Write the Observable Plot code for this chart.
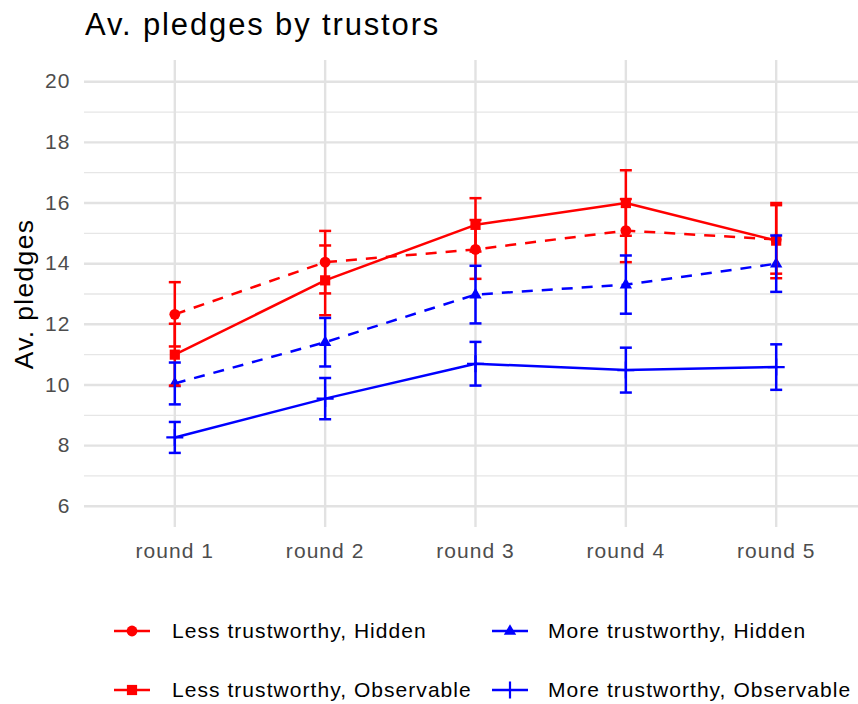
<!DOCTYPE html>
<html>
<head>
<meta charset="utf-8">
<script src="https://cdn.jsdelivr.net/npm/d3@7"></script>
<script src="https://cdn.jsdelivr.net/npm/@observablehq/plot@0.6"></script>
<style>
  body { margin: 0; background: #fff; }
  #wrap { position: relative; width: 858px; height: 704px; overflow: hidden; background: #fff;
          font-family: "Liberation Sans", Arial, sans-serif; }
  #plotbox { position: absolute; left: 0; top: 0; }
  #plotbox svg text { letter-spacing: 0.05em; }
  #title { position: absolute; left: 85px; top: 9px; font-size: 31px; line-height: 31px;
           letter-spacing: 0.06em; color: #000; white-space: nowrap; z-index: 2; }
  .leg { position: absolute; display: flex; align-items: center; height: 24px; font-size: 21px;
         letter-spacing: 0.05em; color: #000; white-space: nowrap; }
  .leg svg { display: block; flex: none; }
</style>
</head>
<body>
<div id="wrap">
  <div id="plotbox"></div>
  <div id="title">Av. pledges by trustors</div>
  <div id="legend"></div>
</div>
<script>
// ---- data ----
const rounds = ["round 1", "round 2", "round 3", "round 4", "round 5"];
const seriesNames = [
  "Less trustworthy, Hidden",
  "Less trustworthy, Observable",
  "More trustworthy, Hidden",
  "More trustworthy, Observable"
];
const lessHiddenMean = [12.33, 14.05, 14.47, 15.09, 14.80];
const lessHiddenSE   = [1.06, 1.03, 0.97, 1.04, 1.13];
const lessObsMean    = [11.00, 13.45, 15.28, 16.00, 14.76];
const lessObsSE      = [1.02, 1.15, 0.88, 1.08, 1.24];
const moreHiddenMean = [10.05, 11.41, 12.98, 13.31, 14.00];
const moreHiddenSE   = [0.69, 0.80, 0.95, 0.96, 0.93];
const moreObsMean    = [8.27, 9.55, 10.70, 10.49, 10.59];
const moreObsSE      = [0.51, 0.68, 0.72, 0.74, 0.75];
const yTicks = [6, 8, 10, 12, 14, 16, 18, 20];
const yMinorTicks = [7, 9, 11, 13, 15, 17, 19];
const yTitle = "Av. pledges";

const means = [lessHiddenMean, lessObsMean, moreHiddenMean, moreObsMean];
const ses = [lessHiddenSE, lessObsSE, moreHiddenSE, moreObsSE];

// ---- symbols (pixel-sized) ----
const circleSym = {draw(c) { c.moveTo(5.4, 0); c.arc(0, 0, 5.4, 0, 2 * Math.PI); c.closePath(); }};
const squareSym = {draw(c) { c.rect(-5.1, -5.1, 10.2, 10.2); }};
const triSym = {draw(c) { c.moveTo(0, -6.8); c.lineTo(6.2, 3.8); c.lineTo(-6.2, 3.8); c.closePath(); }};
const plusSym = {draw(c) { c.moveTo(-8.5, 0); c.lineTo(8.5, 0); c.moveTo(0, -8.5); c.lineTo(0, 8.5); }};
const capSym = {draw(c) { c.moveTo(-6, 0); c.lineTo(6, 0); }};

const RED = "#ff0000", BLUE = "#0000ff";
const styles = [
  {color: RED, dash: "11,9", symbol: circleSym, filled: true},
  {color: RED, dash: null, symbol: squareSym, filled: true},
  {color: BLUE, dash: "11,9", symbol: triSym, filled: true},
  {color: BLUE, dash: null, symbol: plusSym, filled: false}
];

const rows = [];
seriesNames.forEach((s, si) => {
  means[si].forEach((m, i) => rows.push({series: s, si, x: i + 1, mean: m, se: ses[si][i]}));
});
const bySeries = seriesNames.map((s, si) => rows.filter(d => d.si === si));

const LW = 2.5;
const marks = [
  Plot.gridY(yMinorTicks, {stroke: "#e6e6e6", strokeOpacity: 1, strokeWidth: 1.3}),
  Plot.gridY(yTicks, {stroke: "#e2e2e2", strokeOpacity: 1, strokeWidth: 2.4}),
  Plot.gridX(rounds.map((r, i) => i + 1), {stroke: "#e2e2e2", strokeOpacity: 1, strokeWidth: 2.4}),
  Plot.text(yTicks, {y: d => d, text: d => String(d), frameAnchor: "left", dx: -14, textAnchor: "end",
                     fill: "#4d4d4d", fontSize: 21}),
  Plot.text(rounds, {x: (d, i) => i + 1, text: d => d, frameAnchor: "bottom", dy: 30,
                     fill: "#4d4d4d", fontSize: 21}),
  Plot.text([yTitle], {text: d => d, frameAnchor: "left", textAnchor: "middle", dx: -60, rotate: -90,
                       fontSize: 26.5, fill: "#000"})
];
// lines
bySeries.forEach((data, si) => {
  const st = styles[si];
  marks.push(Plot.line(data, {x: "x", y: "mean", stroke: st.color, strokeWidth: LW,
    strokeDasharray: st.dash || undefined, strokeLinecap: "butt", strokeLinejoin: "round"}));
});
// points
bySeries.forEach((data, si) => {
  const st = styles[si];
  marks.push(Plot.dot(data, {x: "x", y: "mean", symbol: st.symbol,
    fill: st.filled ? st.color : "none", stroke: st.filled ? "none" : st.color,
    strokeWidth: st.filled ? 0 : 2.2}));
});
// error bars
bySeries.forEach((data, si) => {
  const st = styles[si];
  marks.push(Plot.ruleX(data, {x: "x", y1: d => d.mean - d.se, y2: d => d.mean + d.se,
    stroke: st.color, strokeWidth: LW}));
  marks.push(Plot.dot(data, {x: "x", y: d => d.mean - d.se, symbol: capSym, fill: "none",
    stroke: st.color, strokeWidth: LW}));
  marks.push(Plot.dot(data, {x: "x", y: d => d.mean + d.se, symbol: capSym, fill: "none",
    stroke: st.color, strokeWidth: LW}));
});

const chart = Plot.plot({
  width: 858,
  height: 580,
  marginTop: 60,
  marginBottom: 53,
  marginLeft: 84,
  marginRight: 0,
  style: {fontFamily: "'Liberation Sans', Arial, sans-serif", background: "transparent", overflow: "visible"},
  x: {type: "linear", domain: [0.4, 5.6], range: [84.1, 865.9], axis: null},
  y: {type: "linear", domain: [5.3, 20.7], range: [527, 60], axis: null},
  marks
});
document.getElementById("plotbox").appendChild(chart);

// ---- legend (HTML with small svg keys) ----
const legend = document.getElementById("legend");
const legPos = [
  {swatch: 114, text: 172, cy: 631},
  {swatch: 114, text: 172, cy: 690},
  {swatch: 492, text: 548, cy: 631},
  {swatch: 492, text: 548, cy: 690}
];
const NS = "http://www.w3.org/2000/svg";
seriesNames.forEach((name, si) => {
  const st = styles[si], p = legPos[si];
  const item = document.createElement("div");
  item.className = "leg";
  item.style.left = p.swatch + "px";
  item.style.top = (p.cy - 12) + "px";
  const svg = document.createElementNS(NS, "svg");
  svg.setAttribute("width", 36); svg.setAttribute("height", 24);
  const ln = document.createElementNS(NS, "line");
  ln.setAttribute("x1", 0); ln.setAttribute("x2", 36); ln.setAttribute("y1", 12); ln.setAttribute("y2", 12);
  ln.setAttribute("stroke", st.color); ln.setAttribute("stroke-width", LW);
  svg.appendChild(ln);
  const pth = d3.path();
  st.symbol.draw(pth, 0);
  const sym = document.createElementNS(NS, "path");
  sym.setAttribute("d", pth.toString());
  sym.setAttribute("transform", "translate(18,12)");
  if (st.filled) { sym.setAttribute("fill", st.color); }
  else { sym.setAttribute("fill", "none"); sym.setAttribute("stroke", st.color); sym.setAttribute("stroke-width", 2.2); }
  svg.appendChild(sym);
  item.appendChild(svg);
  const span = document.createElement("span");
  span.textContent = name;
  span.style.marginLeft = (p.text - p.swatch - 36) + "px";
  item.appendChild(span);
  legend.appendChild(item);
});
</script>
</body>
</html>
